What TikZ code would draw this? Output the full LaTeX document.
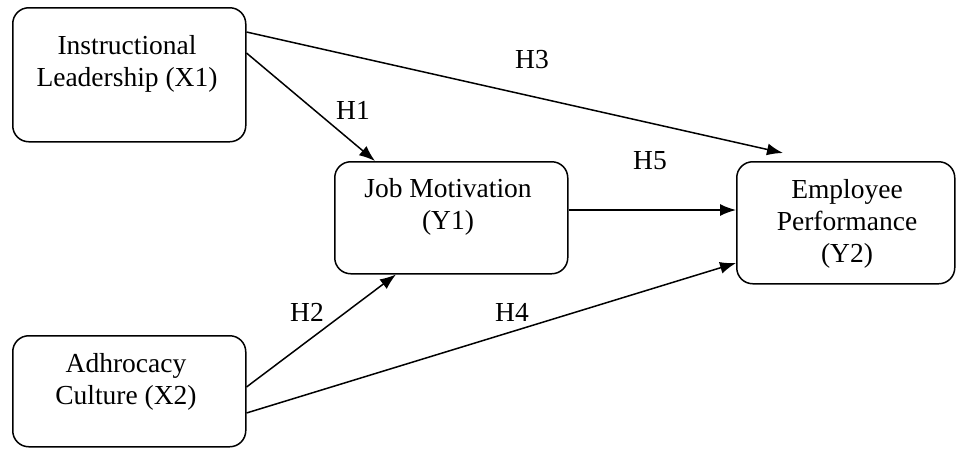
\documentclass[tikz,border=0pt]{standalone}
\usepackage{fontspec}
\setmainfont{Liberation Serif}
\usetikzlibrary{arrows.meta,calc}
\begin{document}
\begin{tikzpicture}[x=1pt,y=-1pt,
  box/.style={draw,line width=1.5pt,rounded corners=16pt,inner sep=0pt,anchor=north west},
  txt/.style={inner sep=0pt,align=center,font=\fontsize{27.5}{32}\selectfont},
  lbl/.style={inner sep=0pt,font=\fontsize{27.5}{32}\selectfont},
  arr/.style={line width=1.5pt,-{Latex[length=16pt,width=12pt]}}]
\useasboundingbox (0,0) rectangle (956,448);
% boxes
\node[box,minimum width=233pt,minimum height=134pt] (x1) at (12,7) {};
\node[box,minimum width=233pt,minimum height=111pt] (x2) at (12,335) {};
\node[box,minimum width=233pt,minimum height=112pt] (jm) at (334,161) {};
\node[box,minimum width=218pt,minimum height=122pt] (ep) at (736,161) {};
% texts
\node[txt] (x1t) at (127,64) {Instructional\\Leadership (X1)};
\node[txt] (x2t) at (126,382) {Adhrocacy\\Culture (X2)};
\node[txt] (jmt) at (448,207) {Job Motivation\\(Y1)};
\node[txt] (ept) at (847,224) {Employee\\Performance\\(Y2)};
% connectors
\coordinate (h3end) at (783,153);
\draw[arr] ([yshift=-25pt]x1.north east) -- (h3end);
\draw[arr] ([yshift=-46pt]x1.north east) -- ([xshift=41pt]jm.north west);
\draw[arr] ([yshift=-52pt]x2.north east) -- ([xshift=62pt]jm.south west);
\draw[arr] ([yshift=-78pt]x2.north east) -- ([yshift=-102pt]ep.north west);
\draw[arr] ([yshift=-49pt]jm.north east) -- ([yshift=-49pt]ep.north west);
% labels
\node[lbl] (h1) at (353,110) {H1};
\node[lbl] (h2) at (307,312) {H2};
\node[lbl] (h3) at (532,60) {H3};
\node[lbl] (h4) at (512,312) {H4};
\node[lbl] (h5) at (650,161) {H5};
\end{tikzpicture}
\end{document}
